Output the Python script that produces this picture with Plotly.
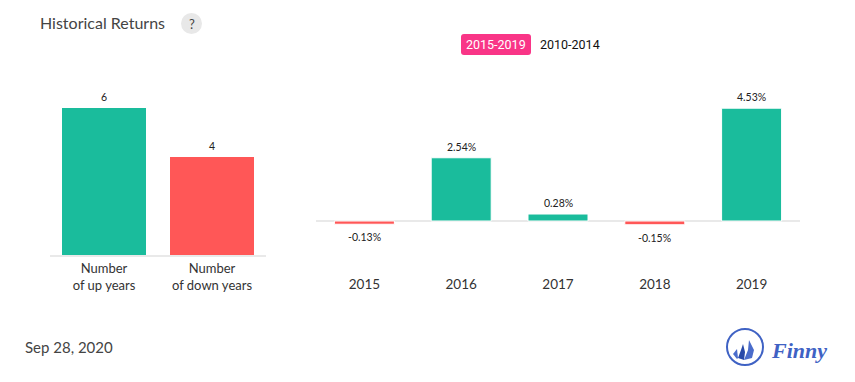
import plotly.graph_objects as go

count_labels = ["Number<br>of up years", "Number<br>of down years"]
count_values = [6, 4]
years = ["2015", "2016", "2017", "2018", "2019"]
returns = [-0.13, 2.54, 0.28, -0.15, 4.53]
return_labels = ["-0.13%", "2.54%", "0.28%", "-0.15%", "4.53%"]
UP, DOWN = "#1abc9c", "#ff5757"
W, H = 855, 382
FONT = "Lato"

def px(x): return x / W
def py(y): return 1 - y / H

fig = go.Figure()
fig.add_bar(x=count_labels, y=count_values, xaxis="x", yaxis="y",
            marker=dict(color=[UP, DOWN], line_width=0), width=84 / 108, hoverinfo="skip")
fig.add_bar(x=years, y=returns, xaxis="x2", yaxis="y2",
            marker=dict(color=[UP if v >= 0 else DOWN for v in returns], line=dict(color="white", width=1)),
            width=60 / 96.8, hoverinfo="skip")

left_top, left_bot = 70, 255
right_top, right_bot = 70, 274
AXIS = "#e9e9e9"
fig.update_layout(
    width=W, height=H, margin=dict(l=0, r=0, t=0, b=0), autosize=False,
    paper_bgcolor="white", plot_bgcolor="white", showlegend=False,
    font=dict(family=FONT, color="#333"),
    xaxis=dict(domain=[px(50), px(266)], range=[-0.5, 1.5], type="category", showgrid=False,
               showline=True, linecolor=AXIS, linewidth=2, ticks="",
               tickfont=dict(size=13, color="#333", family=FONT), anchor="y"),
    yaxis=dict(domain=[py(left_bot), py(left_top)], range=[0, (left_bot - left_top) / 24.5],
               visible=False, anchor="x"),
    xaxis2=dict(domain=[px(316), px(800)], range=[-0.5, 4.5], type="category", showgrid=False,
                showline=False, ticks="",
                tickfont=dict(size=13.5, color="#333", family=FONT), anchor="y2"),
    yaxis2=dict(domain=[py(right_bot), py(right_top)],
                range=[-(right_bot - 221) / 24.9, (221 - right_top) / 24.9],
                showticklabels=False, showgrid=False, showline=False, ticks="",
                zeroline=True, zerolinecolor=AXIS, zerolinewidth=2, anchor="x2"),
)

def bar_label(x, y, s, xref, yref):
    fig.add_annotation(x=x, y=y, xref=xref, yref=yref, text=s, showarrow=False, yanchor="middle",
                       yshift=11 if y >= 0 else -13, font=dict(size=10.5, color="#222", family=FONT))

for i, v in enumerate(count_values):
    bar_label(i, v, str(v), "x", "y")
for i, (v, s) in enumerate(zip(returns, return_labels)):
    bar_label(i, v, s, "x2", "y2")

def txt(x, y, s, size, color, anchor="left", family=FONT):
    fig.add_annotation(xref="paper", yref="paper", x=px(x), y=py(y), text=s, showarrow=False,
                       xanchor=anchor, yanchor="middle", font=dict(size=size, color=color, family=family))

txt(38, 22, "Historical Returns", 16, "#444")
txt(191.5, 23.5, "?", 13, "#444", "center")
txt(23, 347, "Sep 28, 2020", 15, "#444")
txt(496, 44.5, "2015-2019", 12.5, "#ffffff", "center", "Roboto")
txt(570, 44.5, "2010-2014", 12.5, "#111111", "center", "Roboto")
txt(798.5, 350, "<b><i>Finny</i></b>", 22, "#3f62c4", "center", "Liberation Serif")

def rrect(x0, y0, x1, y1, r):
    X = lambda v: round(px(v), 5)
    Y = lambda v: round(py(v), 5)
    return (f"M{X(x0+r)},{Y(y0)} L{X(x1-r)},{Y(y0)} Q{X(x1)},{Y(y0)} {X(x1)},{Y(y0+r)} "
            f"L{X(x1)},{Y(y1-r)} Q{X(x1)},{Y(y1)} {X(x1-r)},{Y(y1)} L{X(x0+r)},{Y(y1)} "
            f"Q{X(x0)},{Y(y1)} {X(x0)},{Y(y1-r)} L{X(x0)},{Y(y0+r)} Q{X(x0)},{Y(y0)} {X(x0+r)},{Y(y0)} Z")

def poly(pts, color):
    d = "M" + " L".join(f"{round(px(a),5)},{round(py(b),5)}" for a, b in pts) + " Z"
    fig.add_shape(type="path", xref="paper", yref="paper", path=d, fillcolor=color, line_width=0)

fig.add_shape(type="path", xref="paper", yref="paper", path=rrect(461, 34, 531, 55, 3),
              fillcolor="#f93587", line_width=0, layer="below")
fig.add_shape(type="circle", xref="paper", yref="paper", x0=px(181), x1=px(202), y0=py(34), y1=py(13),
              fillcolor="#e8e8e8", line_width=0, layer="below")
fig.add_shape(type="circle", xref="paper", yref="paper", x0=px(727), x1=px(763), y0=py(365), y1=py(329),
              fillcolor="rgba(0,0,0,0)", line=dict(color="#3f62c4", width=2))
poly([(749, 340), (754, 350), (752, 358), (744, 360), (748, 350)], "#4a6ccb")
poly([(743, 344), (745, 352), (744, 360), (738, 358), (741, 350)], "#2748a8")
poly([(737, 349), (738, 358), (737, 359), (733, 354)], "#4a6ccb")

fig.write_html("out.html", post_script="document.body.style.margin='0';",
               config={"displayModeBar": False})
